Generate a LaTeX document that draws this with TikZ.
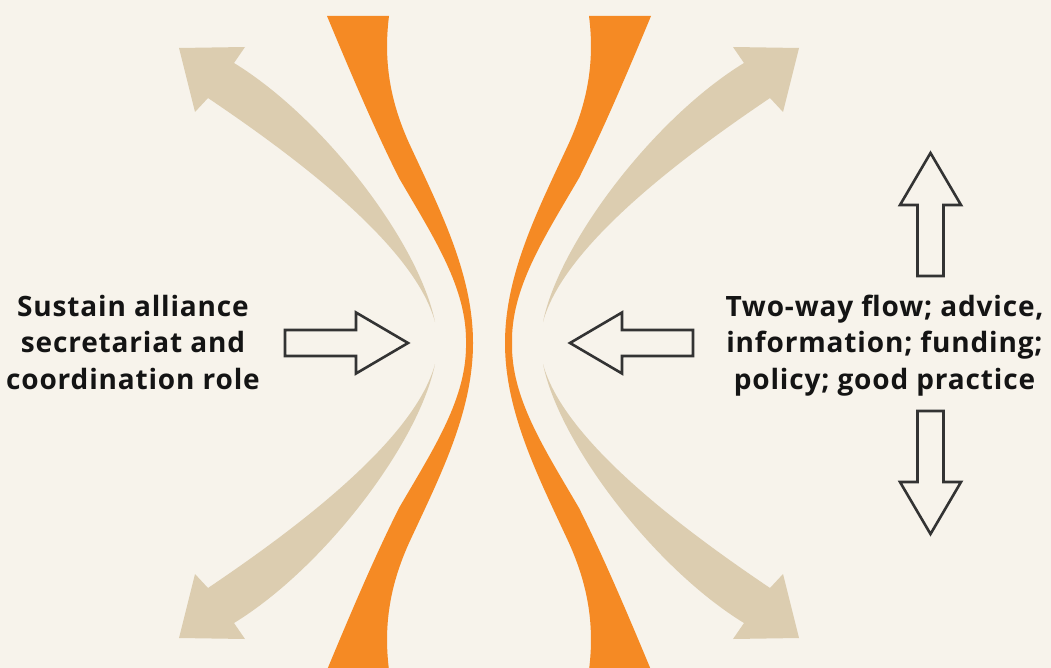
\documentclass[tikz,border=0pt]{standalone}
\usepackage{fontspec}
\setmainfont{Open Sans}[LetterSpace=3]
\usepackage{xcolor}

\definecolor{bgcream}{HTML}{F7F3EB}
\definecolor{flameorange}{HTML}{F58A24}
\definecolor{sandbeige}{HTML}{DCCDB0}
\definecolor{inkgray}{HTML}{333333}

\tikzset{
  orangeband/.style={fill=flameorange},
  spreadarrow/.style={fill=sandbeige},
  blockoutline/.style={draw=inkgray, line width=2.6pt, line join=miter},
  blocktext/.style={font=\fontsize{28}{36.5}\selectfont\bfseries, text=black!92, inner sep=0pt},
  blockarrow/.pic={\draw[blockoutline] (0,-13) -- (71,-13) -- (71,-30.5) -- (123,0) -- (71,30.5) -- (71,13) -- (0,13) -- cycle;}
}

\begin{document}
\begin{tikzpicture}[x=1pt,y=-1pt]
  \fill[bgcream] (0,0) rectangle (1051,668);
  \useasboundingbox (0,0) rectangle (1051,668);
  \clip (0,0) rectangle (1051,668);

  \begin{scope}[shift={(489,343)}]
    % the two orange bands
    \foreach \sx in {1,-1}{
      \fill[orangeband, xscale=\sx] (-162,-327) .. controls (-130,-250) and (-110,-205) .. (-90,-165)
        .. controls (-55,-105) and (-22,-55) .. (-23,0)
        .. controls (-22,55) and (-55,105) .. (-90,165)
        .. controls (-110,205) and (-130,250) .. (-162,327) -- (-100,327)
        .. controls (-106,280) and (-98,240) .. (-80,200)
        .. controls (-50,135) and (-16,70) .. (-16,0)
        .. controls (-16,-70) and (-50,-135) .. (-80,-200)
        .. controls (-98,-240) and (-106,-280) .. (-100,-327) -- cycle;
    }
    % arrows spreading out to the corners
    \foreach \sx/\sy in {1/1,-1/1,1/-1,-1/-1}{
      \fill[spreadarrow, xscale=\sx, yscale=\sy] (-54,-21) .. controls (-70,-100) and (-165,-225) .. (-255,-280)
        -- (-244,-296) -- (-310,-295) -- (-294,-231) -- (-281,-245)
        .. controls (-204,-193) and (-75,-100) .. (-54,-21) -- cycle;
    }
  \end{scope}

  \pic (inleft) at (285,343) {blockarrow};
  \pic[rotate=180] (inright) at (693,343) {blockarrow};
  \pic[rotate=90] (outup) at (930.5,276) {blockarrow};
  \pic[rotate=-90] (outdown) at (930.5,411) {blockarrow};

  \node[blocktext, anchor=base] (sustain) at (133,316)
    {\begin{tabular}[t]{@{}c@{}}Sustain alliance\\secretariat and\\coordination role\end{tabular}};
  \node[blocktext, anchor=base] (flow) at (884.5,316)
    {\begin{tabular}[t]{@{}c@{}}Two-way flow; advice,\\information; funding;\\policy; good practice\end{tabular}};
\end{tikzpicture}
\end{document}
